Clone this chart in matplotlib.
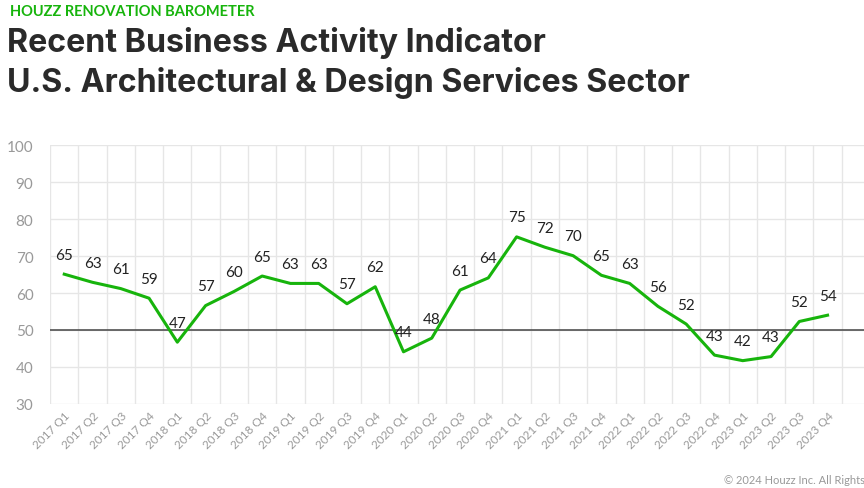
import matplotlib
matplotlib.use('Agg')
import matplotlib.pyplot as plt
import numpy as np

plt.rcParams['font.family'] = ['Lato', 'DejaVu Sans']

quarters = ['2017 Q1', '2017 Q2', '2017 Q3', '2017 Q4',
            '2018 Q1', '2018 Q2', '2018 Q3', '2018 Q4',
            '2019 Q1', '2019 Q2', '2019 Q3', '2019 Q4',
            '2020 Q1', '2020 Q2', '2020 Q3', '2020 Q4',
            '2021 Q1', '2021 Q2', '2021 Q3', '2021 Q4',
            '2022 Q1', '2022 Q2', '2022 Q3', '2022 Q4',
            '2023 Q1', '2023 Q2', '2023 Q3', '2023 Q4']
values = [65.1, 62.9, 61.2, 58.6, 46.7, 56.6, 60.4, 64.6,
          62.6, 62.6, 57.1, 61.7, 44.1, 47.8, 60.8, 64.1,
          75.2, 72.4, 70.1, 64.8, 62.6, 56.4, 51.6, 43.2,
          41.7, 42.8, 52.3, 54.0]
labels = [65, 63, 61, 59, 47, 57, 60, 65, 63, 63, 57, 62, 44, 48, 61, 64,
          75, 72, 70, 65, 63, 56, 52, 43, 42, 43, 52, 54]

green = '#17b40c'
fig = plt.figure(figsize=(8.64, 4.89), dpi=100)
ax = fig.add_axes([0.058, 0.172, 0.962, 0.529])

x = np.arange(len(quarters))
ax.plot(x, values, color=green, lw=2.2, zorder=3)
for xi, v, lab in zip(x, values, labels):
    ax.annotate(str(lab), xy=(xi, v), xytext=(0, 9), textcoords='offset points',
                ha='center', va='bottom', fontsize=11, color='#222222', zorder=4)

ax.axhline(50, color='#444444', lw=1.1, zorder=2)

ax.set_xlim(-0.5, 28.9)
ax.set_ylim(30, 100)
ax.set_yticks(range(30, 101, 10))
ax.set_xticks(x)
ax.set_xticklabels(quarters, rotation=45, ha='right', rotation_mode='anchor',
                   fontsize=8.5, color='#999999')
ax.set_xticks(np.arange(-0.5, 29, 1), minor=True)
ax.tick_params(axis='y', labelsize=11, labelcolor='#999999', length=0, pad=12)
ax.tick_params(axis='x', which='both', length=0, pad=4)
ax.grid(axis='y', color='#e6e6e6', lw=1)
ax.grid(axis='x', which='minor', color='#e6e6e6', lw=1)
for s in ax.spines.values():
    s.set_visible(False)

fig.text(0.012, 0.975, 'HOUZZ RENOVATION BAROMETER', color=green, fontsize=10.5,
         fontweight='bold', va='center', ha='left')
fig.text(0.008, 0.912, 'Recent Business Activity Indicator', color='#2a2a2a',
         fontsize=23.2, fontweight='bold', va='center', ha='left', family='Inter')
fig.text(0.008, 0.830, 'U.S. Architectural & Design Services Sector', color='#2a2a2a',
         fontsize=23.2, fontweight='bold', va='center', ha='left', family='Inter')
fig.text(0.838, 0.018, '© 2024 Houzz Inc. All Rights Reserved.', color='#999999',
         fontsize=8, va='center', ha='left')

fig.savefig('out.png', dpi=100)
